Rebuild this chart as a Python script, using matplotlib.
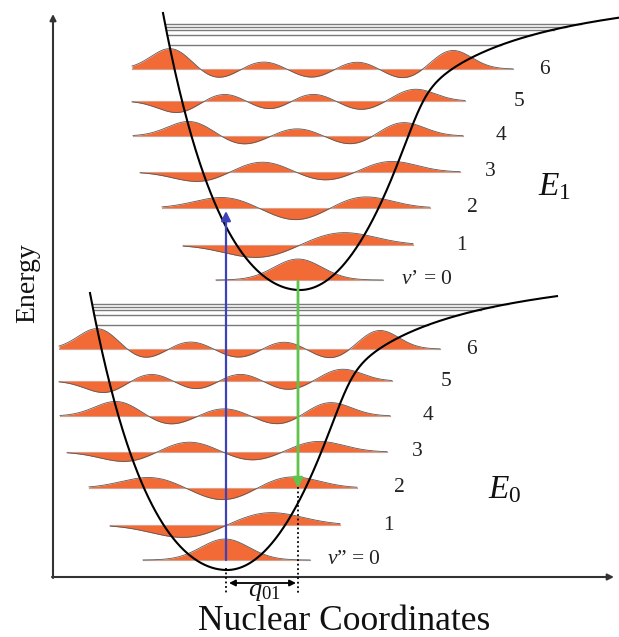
"""Franck-Condon sketch: two displaced potential wells with vibrational wavefunctions."""
import matplotlib
matplotlib.use("Agg")
import matplotlib.pyplot as plt
import numpy as np

plt.rcParams["font.family"] = ["Liberation Serif", "DejaVu Serif"]
plt.rcParams["mathtext.fontset"] = "custom"
plt.rcParams["mathtext.rm"] = "Liberation Serif"
plt.rcParams["mathtext.it"] = "Liberation Serif:italic"

# canvas units = pixels, energy axis pointing up
W, H = 619, 637

# minima of the two wells (x, energy)
min_upper = (300, 347)
min_lower = (227, 67)

# vibrational levels: energy above the well minimum and baseline span
level_energy = [10, 45, 82, 118, 154, 189, 221]
level_left = [-84, -117, -138, -160, -167, -168, -168]
level_right = [83, 113, 130, 160, 163, 165, 213]

# wavefunction lobes: position relative to the minimum, signed height
lobe_pos = [
    [-2],
    [-41, 41],
    [-76, -3, 62],
    [-100, -38, 25, 90],
    [-110, -57, -3, 52, 102],
    [-122, -76, -30, 12, 61, 115],
    [-129, -83, -37, 12, 57, 104, 152],
]
lobe_amp = [
    [21],
    [-13, 13],
    [11, -13, 12],
    [-10, 11, -9, 11],
    [15, -9, 8, -9, 14],
    [-12, 8, -9, 8, -9, 12],
    [21, -10, 8, -9, 8, -10, 19],
]
lobe_width = [24, 34, 29, 26.5, 22, 20, 19.7]

level_names = ["0", "1", "2", "3", "4", "5", "6"]
label_dx = [127, 161, 172, 190, 201, 219, 244]

# closely spaced levels near dissociation
continuum_energy = [266, 263, 260.5, 255, 245]

ORANGE = "#f26a36"


def potential(d):
    d = np.asarray(d, float)
    left = 0.01024 * d**2 + 2.406e-7 * d**4
    har = 0.0133 * d**2
    dd = np.maximum(d, 60)
    har_dd = 0.0133 * dd**2
    tail = 318.8 - 14822 / dd
    soft = (har_dd**-12 + tail**-12) ** (-1 / 12)
    right = np.where(d > 60, soft, har)
    return np.where(d < 0, left, right)


def draw_well(ax, x0, y0, prime):
    d = np.linspace(-137, 330, 800)
    V = potential(d)
    ax.plot(x0 + d, y0 + V, color="black", lw=1.5, zorder=4)

    dl = np.linspace(-137, 0, 400)
    dr = np.linspace(0, 330, 600)
    for e in continuum_energy:
        xl = np.interp(e, potential(dl)[::-1], dl[::-1])
        xr = np.interp(e, potential(dr), dr)
        ax.plot([x0 + xl, x0 + xr], [y0 + e, y0 + e], color="#7a7a7a",
                lw=1.0, zorder=3)

    for i, e in enumerate(level_energy):
        xs = np.linspace(level_left[i], level_right[i], 500)
        psi = np.zeros_like(xs)
        for c, a in zip(lobe_pos[i], lobe_amp[i]):
            psi += a * np.exp(-(xs - c) ** 2 / (2 * lobe_width[i] ** 2))
        yb = y0 + e
        ax.plot([x0 + xs[0], x0 + xs[-1]], [yb, yb], color="#8a8a8a",
                lw=0.8, zorder=1)
        ax.fill_between(x0 + xs, yb, yb + psi, color=ORANGE, lw=0, zorder=2)
        ax.plot(x0 + xs, yb + psi, color="#5a5a5a", lw=0.6, zorder=3)
        ax.plot(x0 + xs, np.full_like(xs, yb), color="#fbd3c3", lw=0.4,
                alpha=0.8, zorder=2.5)
        if i == 0:
            lab = "$v$" + prime + " = 0"
        else:
            lab = level_names[i]
        ax.text(x0 + label_dx[i], yb, lab, fontsize=15.5, color="#222222",
                ha="center", va="center")


fig = plt.figure(figsize=(W / 100, H / 100), dpi=100)
ax = fig.add_axes([0, 0, 1, 1])
ax.set_xlim(0, W)
ax.set_ylim(0, H)
ax.axis("off")

# axes arrows
ax.annotate("", xy=(53, 623), xytext=(53, 59),
            arrowprops=dict(arrowstyle="-|>", color="#333333", lw=1.5,
                            shrinkA=0, shrinkB=0, mutation_scale=9))
ax.annotate("", xy=(614, 60), xytext=(52, 60),
            arrowprops=dict(arrowstyle="-|>", color="#333333", lw=1.5,
                            shrinkA=0, shrinkB=0, mutation_scale=9))

draw_well(ax, *min_lower, "\u201d")
draw_well(ax, *min_upper, "\u2019")

# absorption and emission
ax.annotate("", xy=(226, 426), xytext=(226, 77),
            arrowprops=dict(arrowstyle="-|>", color="#3d42b8", lw=1.6,
                            shrinkA=0, shrinkB=0, mutation_scale=14),
            zorder=6)
ax.annotate("", xy=(298, 149), xytext=(298, 356),
            arrowprops=dict(arrowstyle="-|>", color="#5ec44c", lw=2.0,
                            shrinkA=0, shrinkB=0, mutation_scale=14),
            zorder=6)

# displacement q01
ax.plot([226, 226], [69, 44], color="black", lw=1.3, ls=(0, (1, 1.5)),
        zorder=5)
ax.plot([298, 298], [150, 44], color="black", lw=1.3, ls=(0, (1, 1.5)),
        zorder=5)
ax.annotate("", xy=(296, 54), xytext=(229, 54),
            arrowprops=dict(arrowstyle="<|-|>", color="black", lw=1.3,
                            shrinkA=0, shrinkB=0, mutation_scale=9))
ax.text(264, 45, "$q_{01}$", fontsize=19, ha="center", va="center",
        color="#111111")

ax.text(555, 450, "$E_1$", fontsize=24, ha="center", va="center",
        color="#111111")
ax.text(505, 147, "$E_0$", fontsize=24, ha="center", va="center",
        color="#111111")
ax.text(28, 354, "Energy", fontsize=20, rotation=90, ha="center",
        va="center", color="#111111")
ax.text(344, 16, "Nuclear Coordinates", fontsize=25.5, ha="center",
        va="center", color="#111111")

fig.savefig("out.png", dpi=100)
